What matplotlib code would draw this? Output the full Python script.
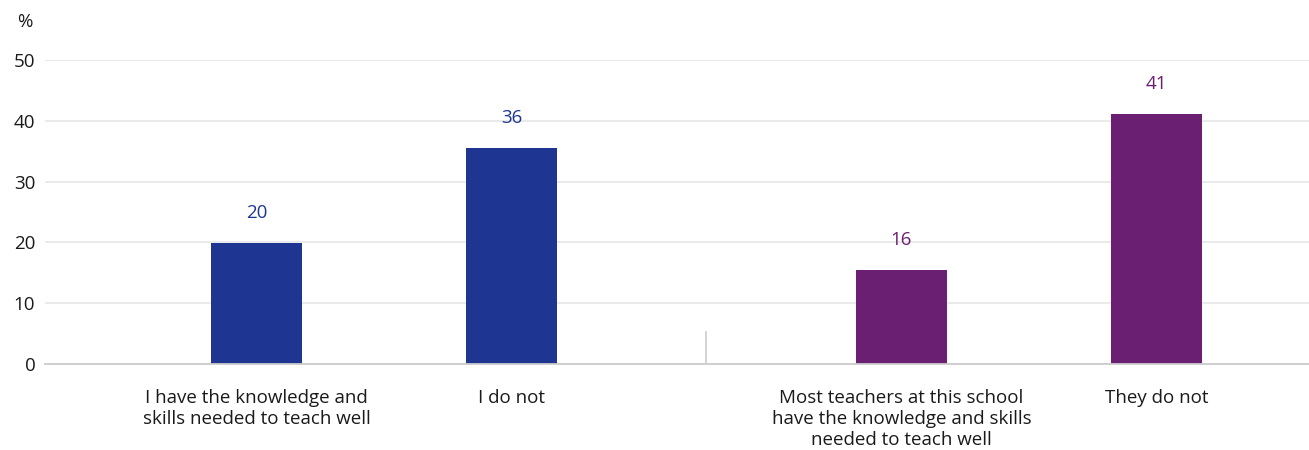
import matplotlib
matplotlib.use("Agg")
import matplotlib.pyplot as plt

categories = ["I have the knowledge and\nskills needed to teach well",
              "I do not",
              "Most teachers at this school\nhave the knowledge and skills\nneeded to teach well",
              "They do not"]
values = [19.9, 35.5, 15.5, 41.1]
labels = ["20", "36", "16", "41"]
yticks = [0, 10, 20, 30, 40, 50]

colors = ["#1e3691", "#1e3691", "#6b1f72", "#6b1f72"]
positions = [0, 1, 2.529, 3.529]
sep_x = 1.763

plt.rcParams['font.family'] = ['Open Sans', 'DejaVu Sans']
FS = 13.5
fig = plt.figure(figsize=(13.09, 4.5), dpi=100)
ax = fig.add_axes([45/1309, 1-364/450, 1-45/1309, (364-60)/450])

ax.bar(positions, values, width=0.357, color=colors, zorder=3)
for x, v, l, c in zip(positions, values, labels, colors):
    ax.text(x, v + 3.4, l, ha="center", va="bottom", color=c, fontsize=FS, clip_on=False)

ax.set_xlim(-0.829, 4.127)
ax.set_ylim(0, 50)
ax.set_yticks(yticks)
ax.set_yticklabels([str(t) for t in yticks], fontsize=FS, color="#1a1a1a")
ax.tick_params(axis="y", length=0, pad=7)
ax.tick_params(axis="x", length=0, pad=18)
ax.set_xticks(positions)
ax.set_xticklabels(categories, fontsize=FS, color="#1a1a1a", linespacing=1.22, va="top")
ax.grid(axis="y", color="#e6e6e6", linewidth=1.2, zorder=0)
for s in ["top", "right", "left"]:
    ax.spines[s].set_visible(False)
ax.spines["bottom"].set_color("#cccccc")
ax.spines["bottom"].set_linewidth(1.3)
ax.spines["bottom"].set_zorder(4)
ax.plot([sep_x, sep_x], [0, 5.2], color="#cccccc", linewidth=1.2, zorder=4)
fig.text(25/1309, 1-22/450, "%", ha="center", va="center", fontsize=FS, color="#1a1a1a")

fig.savefig("out.png", dpi=100)
